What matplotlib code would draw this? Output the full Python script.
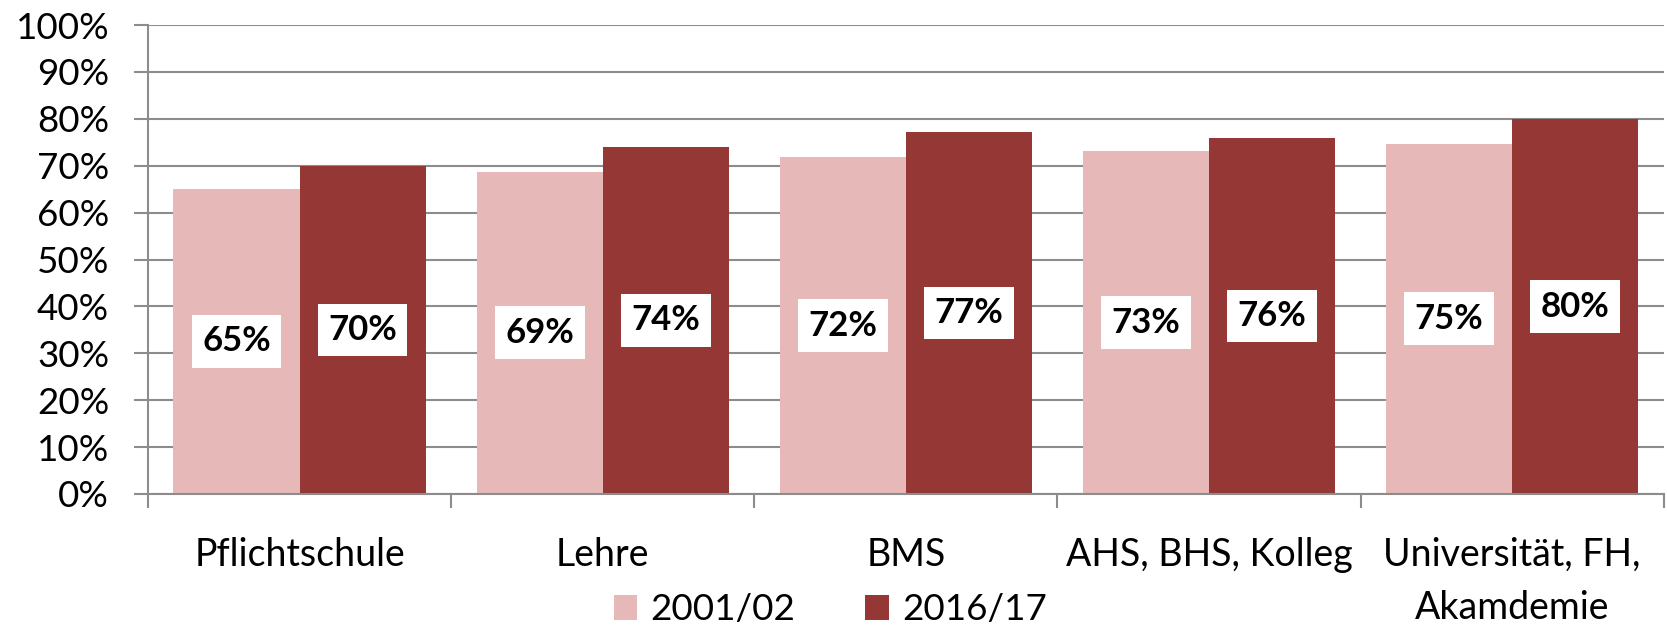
import matplotlib
matplotlib.use("Agg")
import matplotlib.pyplot as plt
import numpy as np
from matplotlib.ticker import PercentFormatter

plt.rcParams['font.family'] = ['Lato', 'DejaVu Sans']

categories = ["Pflichtschule", "Lehre", "BMS", "AHS, BHS, Kolleg", "Universität, FH,\nAkamdemie"]
series_names = ["2001/02", "2016/17"]
values_2001 = [65.1, 68.7, 71.8, 73.1, 74.7]
values_2016 = [69.9, 74.0, 77.2, 75.9, 79.9]
labels_2001 = ["65%", "69%", "72%", "73%", "75%"]
labels_2016 = ["70%", "74%", "77%", "76%", "80%"]
colors = ["#E6B8B7", "#953735"]

fig = plt.figure(figsize=(16.67, 6.26), dpi=100)
ax = fig.add_axes([0.0888, 0.2109, 0.9092, 0.7491])

x = np.arange(len(categories))
w = 0.416
grid_c = "#8c8c8c"

ax.set_axisbelow(True)
ax.yaxis.grid(True, color=grid_c, linewidth=1.5)
b1 = ax.bar(x - w/2, values_2001, w, color=colors[0], label=series_names[0], zorder=2)
b2 = ax.bar(x + w/2, values_2016, w, color=colors[1], label=series_names[1], zorder=2)

for bars, labs in ((b1, labels_2001), (b2, labels_2016)):
    for rect, lab in zip(bars, labs):
        ax.text(rect.get_x() + rect.get_width()/2, rect.get_height()/2, lab,
                ha='center', va='center', fontsize=25, fontweight='bold', color='black',
                bbox=dict(boxstyle='square,pad=0.3', facecolor='white', edgecolor='none'),
                zorder=3)

ax.set_xlim(-0.5, len(categories) - 0.5)
ax.set_ylim(0, 100)
ax.set_yticks(np.arange(0, 101, 10))
ax.yaxis.set_major_formatter(PercentFormatter(decimals=0))
ax.set_xticks(np.arange(-0.5, len(categories), 1.0))
ax.set_xticklabels([])
ax.set_xticks(x, minor=True)
ax.set_xticklabels(categories, minor=True, linespacing=1.6)

ax.tick_params(axis='y', length=10, width=1.5, color=grid_c, labelsize=26.5, pad=18)
ax.tick_params(axis='x', which='major', length=10, width=1.5, color=grid_c)
ax.tick_params(axis='x', which='minor', length=0, labelsize=27, pad=31)

for s in ['top', 'right']:
    ax.spines[s].set_visible(False)
for s in ['left', 'bottom']:
    ax.spines[s].set_color(grid_c)
    ax.spines[s].set_linewidth(1.5)

fig.legend(handles=[b1, b2], labels=series_names, loc='center', bbox_to_anchor=(0.498, 0.026),
           ncol=2, frameon=False, fontsize=26.5, handlelength=0.65, handleheight=0.65,
           handletextpad=0.35, columnspacing=1.9)

fig.savefig("out.png", dpi=100)
